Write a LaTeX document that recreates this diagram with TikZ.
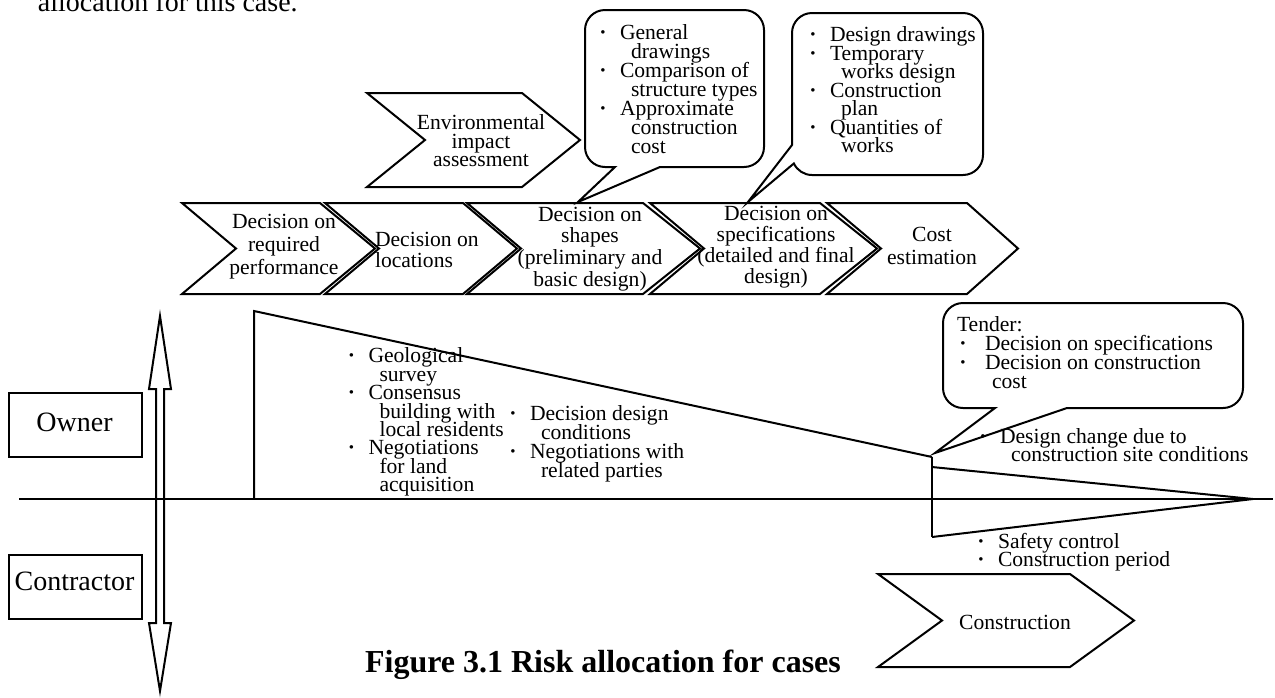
\documentclass[tikz,border=0pt]{standalone}
\usepackage{fontspec}
\setmainfont{Liberation Serif}

% text helpers: tight line spacing, bullet dot, hanging continuation
\newcommand\mylistfont[1]{\fontsize{10.8pt}{#1}\selectfont\lineskiplimit=-20pt\relax}
\newcommand\itemdot{\makebox[0pt]{\textbf{\textperiodcentered}}\hspace{8.5pt}}
\newcommand\tenderdot{\hspace*{3pt}\makebox[0pt]{\textbf{\textperiodcentered}}\hspace{11pt}}
\newcommand\contline{\hspace*{14pt}}

% chevron outline: left x, top-right x, top y, bottom y, notch depth, tip depth
\newcommand\chevpath[6]{%
  \draw (#1,#3) -- (#2,#3) -- ({#2+#6},{(#3+#4)/2}) -- (#2,#4) -- (#1,#4)
        -- ({#1+#5},{(#3+#4)/2}) -- cycle;}

\tikzset{
  every node/.style={inner sep=0pt, outer sep=0pt},
  lst/.style={align=left, anchor=north west, font=\mylistfont{#1}},
  ctr/.style={align=center, anchor=north, font=\mylistfont{#1}},
  rolebox/.style={draw, minimum width=66.5pt, minimum height=32pt},
  rolefont/.style={font=\fontsize{14pt}{16pt}\selectfont},
}

\begin{document}
\begin{tikzpicture}[x=0.5pt, y=-0.5pt, line width=1pt]
\useasboundingbox (0,0) rectangle (1275,697);
\clip (0,0) rectangle (1275,697);

% line of running text above the figure
\node[anchor=base west, rolefont] (runin) at (38,11) {allocation for this case.};

% ---- process chevrons ----
\chevpath{367}{522}{93}{187}{58}{58}
\node[ctr=9.2pt] (env) at (481,115) {Environmental\\impact\\assessment};

\chevpath{182}{320}{203}{294}{54}{55}
\chevpath{325}{463}{203}{294}{54}{54}
\chevpath{467}{643}{203}{294}{54}{57}
\chevpath{650}{820}{203}{294}{54}{57}
\chevpath{827}{967}{203}{294}{54}{51}

\node[ctr=11.5pt] (perf) at (284,214.3) {Decision on\\required\\performance};
\node[lst=10.7pt] (loc) at (375,232) {Decision on\\locations};
\node[ctr=10.8pt] (shape) at (590,207) {Decision on\\shapes\\(preliminary and\\basic design)};
\node[ctr=10.5pt] (spec) at (776,206.5) {Decision on\\specifications\\(detailed and final\\design)};
\node[ctr=11.7pt] (cost) at (932,227) {Cost\\estimation};

% ---- callouts ----
\draw (615,167) -- (578,202) -- (660,167) -- (744,167)
  arc[start angle=90,end angle=0,radius=20] -- (764,30)
  arc[start angle=360,end angle=270,radius=20] -- (605,10)
  arc[start angle=270,end angle=180,radius=20] -- (585,147)
  arc[start angle=180,end angle=90,radius=20] -- cycle;
\node[lst=9.5pt] (basic) at (603,25) {\itemdot General\\\contline drawings\\\itemdot Comparison of\\\contline structure types\\\itemdot Approximate\\\contline construction\\\contline cost};

\draw (793.87,163.45) arc[start angle=155,end angle=90,radius=20] -- (963,175)
  arc[start angle=90,end angle=0,radius=20] -- (983,33)
  arc[start angle=360,end angle=270,radius=20] -- (812,13)
  arc[start angle=270,end angle=180,radius=20] -- (792,145) -- (748,202) -- cycle;
\node[lst=9.25pt] (detail) at (813,27) {\itemdot Design drawings\\\itemdot Temporary\\\contline works design\\\itemdot Construction\\\contline plan\\\itemdot Quantities of\\\contline works};

\draw (995,408) -- (935,453) -- (1067,408) -- (1223,408)
  arc[start angle=90,end angle=0,radius=20] -- (1243,323)
  arc[start angle=360,end angle=270,radius=20] -- (963,303)
  arc[start angle=270,end angle=180,radius=20] -- (943,388)
  arc[start angle=180,end angle=90,radius=20] -- cycle;
\node[lst=9.5pt] (tender) at (957,317) {Tender:\\\tenderdot Decision on specifications\\\tenderdot Decision on construction\\\hspace*{17.5pt}cost};

% ---- risk wedges and time axis ----
\coordinate (wbase) at (254,499);
\coordinate (wtop) at (254,311);
\coordinate (wend) at (932,457);
\coordinate (sbot) at (932,537);
\coordinate (stop) at (932,467);
\coordinate (apex) at (1253,499);
\draw (wbase) -- (wtop) -- (wend);
\draw (wend) -- (sbot);
\draw (stop) -- (apex) -- (sbot);
\draw (19,499) -- (1273,499);

\node[lst=9.2pt] (owner1) at (351.5,348) {\itemdot Geological\\\contline survey\\\itemdot Consensus\\\contline building with\\\contline local residents\\\itemdot Negotiations\\\contline for land\\\contline acquisition};
\node[lst=9.5pt] (owner2) at (513,406) {\itemdot Decision design\\\contline conditions\\\itemdot Negotiations with\\\contline related parties};
\node[lst=9pt] (change) at (983,429) {\itemdot Design change due to\\\contline construction site conditions};
\node[lst=9pt] (contr) at (981,533) {\itemdot Safety control\\\itemdot Construction period};

% ---- parties and double arrow ----
\draw (160,316) -- (171,389) -- (164,389) -- (164,623) -- (171,623) -- (160,691)
  -- (149,623) -- (156,623) -- (156,389) -- (149,389) -- cycle;
\node[rolebox] (ownerbox) at (75.5,425) {};
\node[rolefont] (owner) at (74.5,422.5) {Owner};
\node[rolebox] (contractorbox) at (75.5,587) {};
\node[rolefont] (contractor) at (74.5,581) {Contractor};

% construction stage
\chevpath{878}{1070}{574}{667}{64}{64}
\node[font=\mylistfont{11pt}] (build) at (1015,622) {Construction};

% caption
\node[anchor=base, font=\fontsize{16pt}{18pt}\selectfont\bfseries] (caption) at (603,672) {Figure 3.1 Risk allocation for cases};
\end{tikzpicture}
\end{document}
